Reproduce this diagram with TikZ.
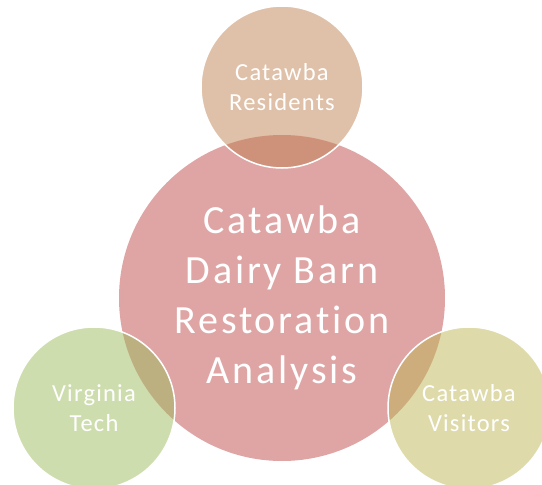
\documentclass[tikz,border=0pt]{standalone}
\usepackage{fontspec}
\setmainfont{Carlito}
\usetikzlibrary{shapes}
\definecolor{hubfill}{RGB}{223,165,165}
\definecolor{residentfill}{RGB}{191,129,81}
\definecolor{techfill}{RGB}{157,187,93}
\definecolor{visitorfill}{RGB}{189,181,85}
\newcommand{\hubsize}{326pt}
\newcommand{\petalsize}{162pt}
\tikzset{
    hub/.style = { circle, fill=hubfill, align=center,
        inner sep = 0pt,
        text = white,
        minimum size = \hubsize,
        font=\fontsize{40}{50}\selectfont\addfontfeature{LetterSpace=7,Ligatures=NoCommon}
    },
    petal/.style = { circle, draw=white, line width=1.5pt, align=center,
        inner sep = 0pt,
        text = white,
        fill opacity = 0.5, text opacity = 1,
        minimum size = \petalsize,
        font=\fontsize{24.5}{30}\selectfont\addfontfeature{LetterSpace=5,Ligatures=NoCommon}
    }
}

\begin{document}
\begin{tikzpicture}[x=1pt, y=-1pt]
        \useasboundingbox (0,0) rectangle (542,485);

        % hub...
        \node[hub] (hub) at (282,298) {Catawba\\Dairy Barn\\Restoration\\Analysis};

        % petals...
        \node[petal, fill=residentfill] (res) at (282,87)  {Catawba\\Residents};
        \node[petal, fill=techfill]     (vt)  at (94,408)  {Virginia\\Tech};
        \node[petal, fill=visitorfill]  (vis) at (469,408) {Catawba\\Visitors};
\end{tikzpicture}
\end{document}
